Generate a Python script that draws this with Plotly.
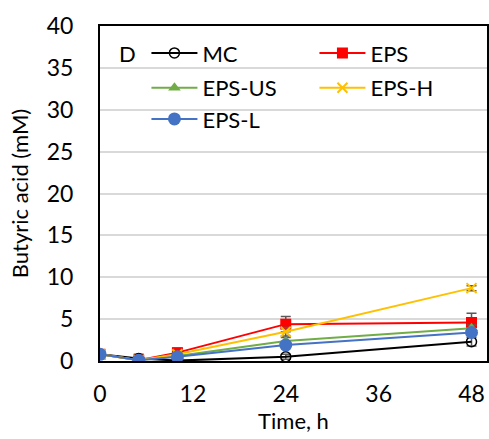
import plotly.graph_objects as go

time_h = [0, 5, 10, 24, 48]
series_names = ["MC", "EPS", "EPS-US", "EPS-H", "EPS-L"]
mc = [0.8, 0.3, 0.05, 0.5, 2.3]
eps = [0.8, 0.1, 1.0, 4.4, 4.6]
eps_us = [0.8, 0.1, 0.6, 2.4, 3.9]
eps_h = [0.8, 0.1, 0.8, 3.5, 8.7]
eps_l = [0.8, 0.1, 0.5, 1.9, 3.4]
mc_err = [0.3, 0.5, 0.1, 0.3, 0.5]
eps_err = [0.3, 0.2, 0.5, 0.9, 1.1]
eps_us_err = [0.2, 0.2, 0.3, 0.4, 0.4]
eps_h_err = [0.2, 0.2, 0.3, 0.5, 0.3]
eps_l_err = [0.2, 0.2, 0.2, 0.3, 0.3]

font_family = "Lato, Open Sans, sans-serif"

styles = [
    dict(color="black", marker=dict(symbol="circle-open", size=10, color="black", line=dict(width=1.5, color="black"))),
    dict(color="#FF0000", marker=dict(symbol="square", size=11, color="#FF0000")),
    dict(color="#70AD47", marker=dict(symbol="triangle-up", size=11, color="#70AD47")),
    dict(color="#FFC000", marker=dict(symbol="x-thin", size=10, color="#FFC000", line=dict(width=2, color="#FFC000"))),
    dict(color="#4472C4", marker=dict(symbol="circle", size=13, color="#4472C4")),
]
legend_ids = ["legend", "legend", "legend2", "legend2", "legend3"]
values = [mc, eps, eps_us, eps_h, eps_l]
errors = [mc_err, eps_err, eps_us_err, eps_h_err, eps_l_err]

fig = go.Figure()
for name, vals, err, st, lg in zip(series_names, values, errors, styles, legend_ids):
    fig.add_trace(go.Scatter(
        x=time_h, y=vals, name=name, mode="lines+markers",
        line=dict(color=st["color"], width=2),
        marker=st["marker"], legend=lg,
        error_y=dict(type="data", array=err, visible=True, color="#595959", thickness=1.5, width=5),
    ))

fig.add_annotation(x=0.07, y=0.919, xref="paper", yref="paper", text="D", showarrow=False,
                   font=dict(size=22, color="black", family=font_family), xanchor="center", yanchor="middle")

leg_common = dict(orientation="h", x=0.12, xanchor="left", yanchor="middle",
                  entrywidth=107, entrywidthmode="pixels", bgcolor="rgba(0,0,0,0)", itemwidth=46,
                  font=dict(size=22, family=font_family, color="black"), itemsizing="trace")

fig.update_layout(
    width=489, height=439,
    margin=dict(l=100, r=2, t=26, b=78, autoexpand=False),
    plot_bgcolor="white", paper_bgcolor="white",
    font=dict(family=font_family, size=22, color="black"),
    showlegend=True,
    legend=dict(y=0.919, **leg_common),
    legend2=dict(y=0.815, **leg_common),
    legend3=dict(y=0.722, **leg_common),
    xaxis=dict(range=[0, 50], tickvals=[0, 12, 24, 36, 48], showgrid=False, showline=True,
               linecolor="black", linewidth=2, mirror=True, ticks="", zeroline=False,
               tickfont=dict(size=23), ticklabelstandoff=11,
               title=dict(text="Time, h", font=dict(size=22), standoff=5)),
    yaxis=dict(range=[0, 40], dtick=5, showgrid=True, gridcolor="#D9D9D9", gridwidth=1.5,
               showline=True, linecolor="black", linewidth=2, mirror=True, ticks="", zeroline=False,
               tickfont=dict(size=23), ticklabelstandoff=20,
               title=dict(text="Butyric acid (mM)", font=dict(size=22), standoff=12)),
)

fig.write_html("out.html")
